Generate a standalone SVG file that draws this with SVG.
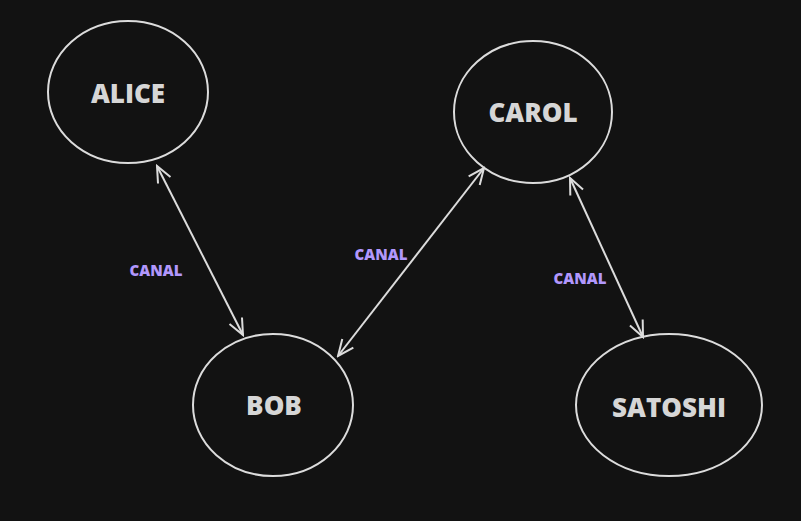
<svg xmlns="http://www.w3.org/2000/svg" width="801" height="521" viewBox="0 0 801 521">
<style>
.node{fill:none;stroke:#dcdcdc;stroke-width:2}
.nt{font-family:"Open Sans","Noto Sans",sans-serif;font-weight:800;font-size:26px;fill:#d6d6d6;text-anchor:middle;dominant-baseline:central}
.lbl{font-family:"Open Sans","Noto Sans",sans-serif;font-weight:800;font-size:15px;fill:#b197fc;text-anchor:middle;dominant-baseline:central}
.edge{stroke:#dcdcdc;stroke-width:2;fill:none}
</style>
<defs>
<marker id="ah" viewBox="0 0 20 20" refX="18" refY="10" markerWidth="20" markerHeight="20" markerUnits="userSpaceOnUse" orient="auto-start-reverse">
<path d="M2,3 L18,10 L2,17" fill="none" stroke="#dcdcdc" stroke-width="2"/>
</marker>
</defs>
<rect width="801" height="521" fill="#121212"/>
<g id="connectors">
<line class="edge" x1="157" y1="166" x2="243" y2="335" marker-start="url(#ah)" marker-end="url(#ah)"/>
<line class="edge" x1="484" y1="168" x2="338" y2="356" marker-start="url(#ah)" marker-end="url(#ah)"/>
<line class="edge" x1="570" y1="178" x2="643" y2="337" marker-start="url(#ah)" marker-end="url(#ah)"/>
<text class="lbl" x="156" y="270">CANAL</text>
<text class="lbl" x="381" y="254">CANAL</text>
<text class="lbl" x="580" y="278">CANAL</text>
</g>
<g id="alice"><ellipse class="node" cx="128" cy="92" rx="80" ry="71"/><text class="nt" x="128" y="93">ALICE</text></g>
<g id="carol"><ellipse class="node" cx="533" cy="112" rx="79" ry="71"/><text class="nt" x="533" y="112">CAROL</text></g>
<g id="bob"><ellipse class="node" cx="273" cy="405" rx="80" ry="71"/><text class="nt" x="274" y="405">BOB</text></g>
<g id="satoshi"><ellipse class="node" cx="669" cy="405" rx="93" ry="71"/><text class="nt" x="669" y="407">SATOSHI</text></g>
</svg>
